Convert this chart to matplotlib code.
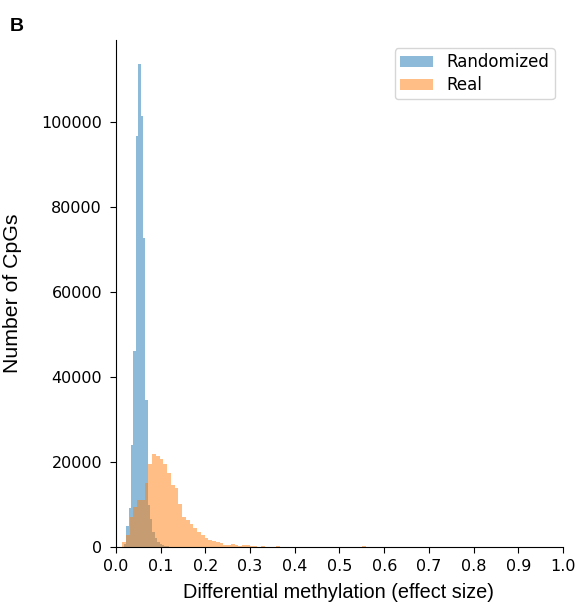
import numpy as np
import matplotlib
matplotlib.use("Agg")
import matplotlib.pyplot as plt

# histogram bins
rand_start = 0.018
rand_width = 0.0053
rand_counts = [800, 5000, 9100, 23900, 46200, 96900, 113700, 101600, 72700, 34500,
               10000, 6500, 3500, 2000, 1200, 800, 500, 300, 200, 100, 50]

real_start = 0.0135
real_width = 0.0084
real_counts = [1250, 2800, 7000, 9300, 11000, 11000, 15000, 19500, 22000, 21400,
               20700, 19500, 17400, 14500, 13900, 10100, 7000, 6400, 5400, 4500,
               3600, 2800, 2000, 1650, 1300, 1200, 850, 550, 550, 600,
               350, 250, 450, 350, 150, 200, 100, 230, 50, 0,
               0, 230, 0, 0, 0, 0, 0, 0, 0, 0,
               0, 0, 0, 0, 0, 0, 0, 0, 0, 0,
               0, 0, 0, 0, 230]

xticks = np.round(np.arange(0, 1.01, 0.1), 1)
yticks = [0, 20000, 40000, 60000, 80000, 100000]

rand_edges = rand_start + rand_width * np.arange(len(rand_counts) + 1)
real_edges = real_start + real_width * np.arange(len(real_counts) + 1)

fig = plt.figure(figsize=(5.79, 6.04), dpi=100)
ax = fig.add_axes([0.2003, 0.0944, 0.7721, 0.8394])

ax.hist(rand_edges[:-1], bins=rand_edges, weights=rand_counts, alpha=0.5,
        color="tab:blue", label="Randomized")
ax.hist(real_edges[:-1], bins=real_edges, weights=real_counts, alpha=0.5,
        color="tab:orange", label="Real")

ax.set_xlim(0, 1.0)
ax.set_ylim(0, 119400)
ax.set_xticks(xticks)
ax.set_xticklabels([f"{t:.1f}" for t in xticks])
ax.set_yticks(yticks)
ax.tick_params(labelsize=11.5, length=4.5)
ax.tick_params(axis="y", pad=5.5)
ax.tick_params(axis="x", pad=4.5)
for s in ["top", "right"]:
    ax.spines[s].set_visible(False)

ax.set_xlabel("Differential methylation (effect size)", family="Liberation Sans", fontsize=14.3)
ax.set_ylabel("Number of CpGs", family="Liberation Sans", fontsize=15.3)
ax.xaxis.set_label_coords(0.497, -0.072)
ax.yaxis.set_label_coords(-0.21, 0.5)
ax.legend(loc="upper right", fontsize=12, labelspacing=0.3, borderpad=0.3)

fig.text(0.017, 0.949, "B", family="Liberation Sans", fontweight="bold", fontsize=14)

fig.savefig("out.png", dpi=100)
